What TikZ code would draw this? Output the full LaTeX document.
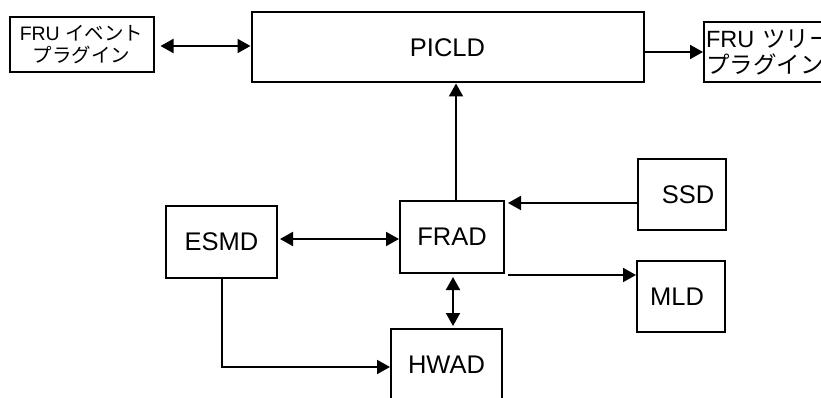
\documentclass[tikz,border=0pt]{standalone}
\usepackage{fontspec}
\setmainfont{Liberation Sans}
\newfontfamily\jpfont{Noto Sans CJK JP}
\usetikzlibrary{arrows.meta}
\definecolor{linegray}{HTML}{000000}

\begin{document}
\begin{tikzpicture}[x=1pt, y=-1pt,
  box/.style={draw=linegray, line width=2pt, inner sep=0pt, align=center,
    font=\fontsize{25.5}{29}\selectfont},
  smallbox/.style={box, font=\fontsize{19.5}{22}\selectfont},
  link/.style={draw=linegray, line width=2pt, -{Triangle[length=13pt,width=14pt]}},
  dlink/.style={link, {Triangle[length=13pt,width=14pt]}-{Triangle[length=13pt,width=14pt]}}]

  % Frame (the reference cuts off the right and bottom boxes)
  \useasboundingbox (0,0) rectangle (821,398);
  \clip (0,0) rectangle (821,398);

  % Top row
  \node[smallbox, minimum width=144pt, minimum height=55pt] (fruevent) at (81.5, 44.5)
    {FRU {\jpfont イベント}\\{\jpfont プラグイン}};
  \node[box, minimum width=392pt, minimum height=70pt] (picld) at (447.5, 47.5) {PICLD};
  \node[smallbox, minimum width=150pt, minimum height=60pt, align=left,
    font=\fontsize{23.5}{26}\selectfont, text width=146pt] (frutree) at (779, 52)
    {FRU {\jpfont ツリー}\\{\jpfont プラグイン}};

  % Daemons
  \node[box, minimum width=104pt, minimum height=72pt] (frad) at (452, 237) {FRAD};
  \node[box, minimum width=111pt, minimum height=72pt] (esmd) at (221.5, 242) {ESMD};
  \node[box, minimum width=88pt, minimum height=71pt] (ssd) at (682, 194.5) {\hspace{12pt}SSD};
  \node[box, minimum width=88pt, minimum height=71pt] (mld) at (681, 296.5) {MLD\hspace{8pt}};
  \node[box, minimum width=111pt, minimum height=71pt] (hwad) at (446.5, 364.5) {HWAD};

  % Connectors
  \draw[dlink, shorten <=6pt] ([yshift=-1.5pt]fruevent.east) -- ([yshift=-1.5pt]fruevent.east -| picld.west);
  \draw[link] (picld.east |- frutree.west) -- (frutree.west);
  \draw[link] ([xshift=4pt]frad.north) -- ([xshift=4pt]frad.north |- picld.south);
  \draw[link, shorten >=3pt] ([yshift=-8.5pt]ssd.west) -- ([yshift=-8.5pt]ssd.west -| frad.east);
  \draw[link, shorten <=3pt] ([yshift=-1pt]frad.south east) -- ([yshift=-1pt]frad.south east -| mld.west);
  \draw[dlink, shorten <=2pt] ([yshift=-2pt]frad.west -| esmd.east) -- ([yshift=-2pt]frad.west);
  \draw[dlink, shorten <=3pt, shorten >=2pt] ([xshift=1pt]frad.south) -- ([xshift=1pt]frad.south |- hwad.north);
  \draw[link] (esmd.south) |- ([yshift=-2.5pt]hwad.west);

\end{tikzpicture}
\end{document}
